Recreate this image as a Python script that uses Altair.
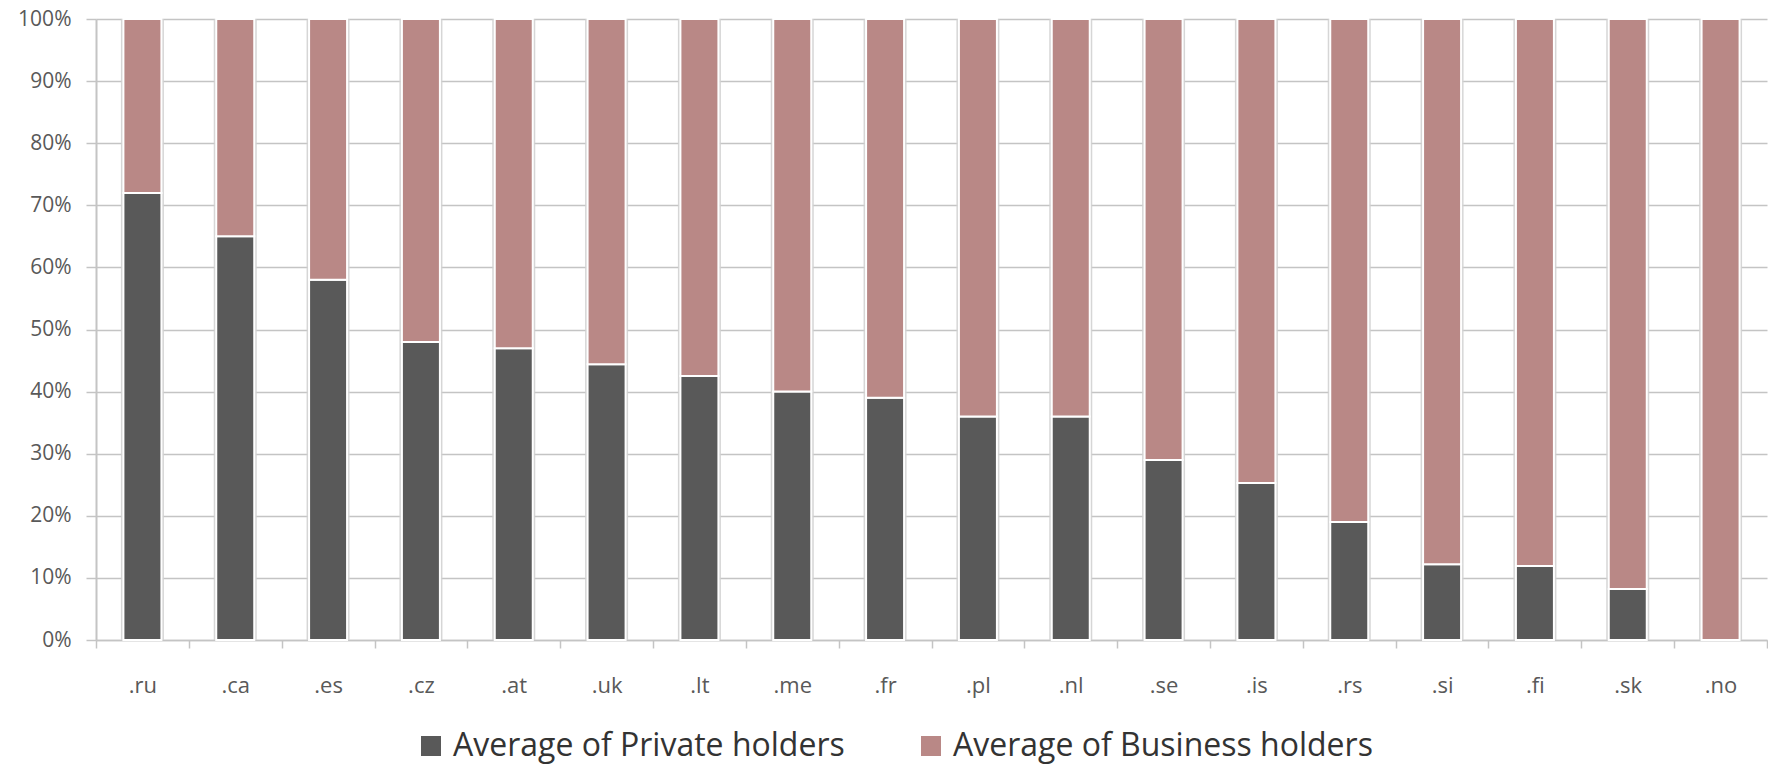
import altair as alt
import pandas as pd

domains = [".ru", ".ca", ".es", ".cz", ".at", ".uk", ".lt", ".me", ".fr",
           ".pl", ".nl", ".se", ".is", ".rs", ".si", ".fi", ".sk", ".no"]
private = [72, 65, 58, 48, 47, 44.4, 42.5, 40, 39,
           36, 36, 29, 25.3, 19, 12.2, 11.9, 8.2, 0]
business = [28, 35, 42, 52, 53, 55.6, 57.5, 60, 61,
            64, 64, 71, 74.7, 81, 87.8, 88.1, 91.8, 100]
series_names = ["Average of Private holders", "Average of Business holders"]
series_colors = ["#595959", "#B98886"]
y_ticks = [0, 10, 20, 30, 40, 50, 60, 70, 80, 90, 100]

rows = []
for d, p, b in zip(domains, private, business):
    rows.append({"domain": d, "series": series_names[0], "value": p, "order": 0})
    rows.append({"domain": d, "series": series_names[1], "value": b, "order": 1})
df = pd.DataFrame(rows)
tot = pd.DataFrame({"domain": domains, "total": [p + b for p, b in zip(private, business)]})

FONT = "Open Sans"
GRID = "#c4c4c4"

x_axis = alt.Axis(title=None, labelAngle=0, tickBand="extent", labelFont=FONT,
                  labelFontSize=22, labelColor="#595959", tickSize=8, tickColor=GRID,
                  tickWidth=1.5, domainColor=GRID, domainWidth=1.5, labelPadding=27,
                  grid=False)
y_axis = alt.Axis(title=None, values=y_ticks, labelExpr="datum.value + '%'",
                  labelFont=FONT, labelFontSize=21, labelColor="#595959",
                  tickSize=10, tickColor=GRID, tickWidth=1.5, labelPadding=15,
                  domainColor=GRID, domainWidth=2, gridColor=GRID, gridWidth=1.5)
x_scale = alt.Scale(paddingInner=0, paddingOuter=0)
y_scale = alt.Scale(domain=[0, 100], nice=False)

shadow = alt.Chart(tot).mark_bar(size=43, color="#d2d2d2", opacity=0.9).encode(
    x=alt.X("domain:N", sort=domains, scale=x_scale, axis=x_axis),
    y=alt.Y("total:Q", scale=y_scale, axis=y_axis),
)

bars = alt.Chart(df).mark_bar(size=38, stroke="white", strokeWidth=2).encode(
    x=alt.X("domain:N", sort=domains, scale=x_scale, axis=x_axis),
    y=alt.Y("value:Q", stack="zero", scale=y_scale, axis=y_axis),
    color=alt.Color("series:N", sort=series_names,
                    scale=alt.Scale(domain=series_names, range=series_colors),
                    legend=alt.Legend(title=None, orient="none", legendX=319, legendY=711,
                                      direction="horizontal", symbolType="square",
                                      symbolSize=400, symbolStrokeWidth=0,
                                      labelFont=FONT, labelFontSize=32,
                                      labelColor="#333333", labelOffset=6,
                                      columnPadding=70, labelLimit=600)),
    order=alt.Order("order:Q"),
)

chart = alt.layer(shadow, bars).properties(
    width=1671, height=621,
    autosize=alt.AutoSizeParams(type="none"),
    padding={"left": 88, "top": 11, "right": 1, "bottom": 124},
).configure_view(stroke=None)

chart.save("out.html", embed_options={"renderer": "svg", "actions": False})
